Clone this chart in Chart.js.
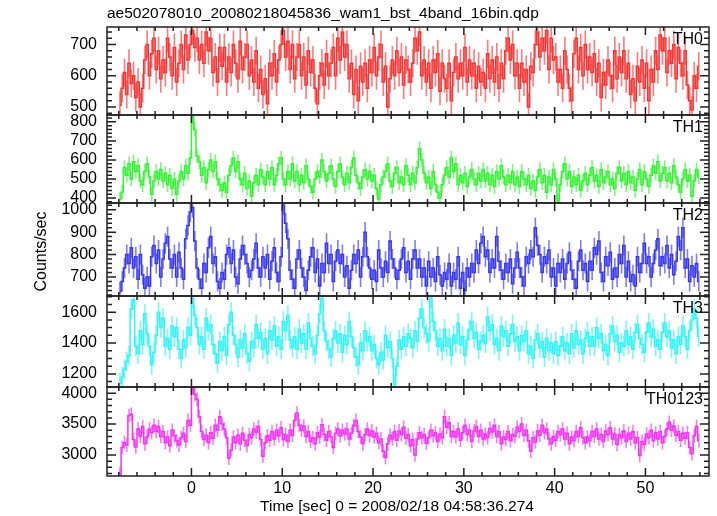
<!DOCTYPE html>
<html lang="en">
<head>
<meta charset="UTF-8">
<title>ae502078010 WAM light curve</title>
<script src="https://cdn.jsdelivr.net/npm/chart.js@4"></script>
<style>
  html, body { margin: 0; padding: 0; background: #fff; }
</style>
</head>
<body>
<canvas id="lc" width="717" height="516"></canvas>
<script>
const fileTitle = "ae502078010_20080218045836_wam1_bst_4band_16bin.qdp";
const xTitle = "Time [sec] 0 = 2008/02/18 04:58:36.274";
const yTitle = "Counts/sec";
const bandNames = ["TH0", "TH1", "TH2", "TH3", "TH0123"];

// 0.25 s bins, first bin centred at -7.875 s
const binStart = -7.875;
const binWidth = 0.25;

const th0 = [
  505, 560, 610, 540, 640, 575, 600, 530, 580, 500, 560, 650, 700, 600, 670, 720,
  620, 680, 590, 650, 610, 720, 660, 600, 690, 580, 640, 700, 620, 730, 650, 700,
  745, 690, 720, 650, 700, 640, 740, 680, 720, 610, 660, 580, 690, 630, 690, 580,
  660, 610, 700, 640, 590, 710, 620, 660, 700, 600, 650, 580, 680, 560, 620, 540,
  590, 510, 640, 600, 670, 580, 650, 700, 745, 660, 710, 620, 700, 590, 660, 700,
  600, 660, 570, 680, 610, 650, 560, 510, 600, 640, 570, 670, 600, 640, 690, 600,
  720, 650, 740, 660, 700, 590, 640, 540, 620, 520, 630, 580, 640, 560, 650, 610,
  690, 600, 660, 700, 580, 630, 500, 590, 650, 600, 680, 610, 660, 570, 650, 620,
  580, 640, 720, 680, 740, 600, 650, 580, 640, 560, 650, 610, 670, 550, 640, 590,
  560, 640, 520, 610, 660, 590, 640, 600, 690, 580, 650, 600, 640, 560, 630, 580,
  610, 560, 670, 590, 650, 580, 660, 560, 640, 590, 680, 720, 650, 700, 600, 640,
  560, 640, 580, 620, 500, 630, 610, 700, 740, 660, 720, 680, 745, 620, 720, 650,
  660, 580, 620, 560, 680, 620, 560, 520, 670, 720, 620, 690, 600, 700, 620, 660,
  610, 670, 580, 640, 530, 610, 570, 650, 600, 560, 680, 590, 660, 610, 680, 590,
  640, 540, 590, 520, 630, 580, 650, 560, 640, 520, 620, 580, 680, 620, 730, 680,
  720, 610, 680, 640, 700, 590, 690, 640, 600, 680, 570, 520, 490, 600, 560, 630
];
const th1 = [
  395, 430, 560, 520, 580, 500, 590, 540, 570, 490, 470, 540, 580, 510, 420, 490,
  540, 500, 550, 490, 530, 470, 520, 450, 500, 420, 490, 540, 500, 570, 530, 610,
  825, 760, 620, 590, 520, 560, 480, 550, 600, 540, 590, 500, 470, 440, 480, 430,
  520, 570, 610, 540, 590, 500, 470, 530, 450, 490, 410, 480, 520, 470, 550, 510,
  470, 540, 500, 560, 470, 520, 580, 610, 500, 470, 540, 500, 580, 490, 540, 470,
  520, 480, 570, 500, 460, 430, 500, 540, 510, 600, 540, 490, 530, 570, 500, 460,
  540, 580, 510, 470, 530, 480, 560, 610, 520, 480, 450, 510, 550, 500, 540, 490,
  520, 450, 395, 470, 510, 540, 580, 490, 460, 530, 560, 480, 510, 470, 570, 520,
  470, 530, 480, 560, 660, 600, 530, 480, 510, 450, 540, 470, 430, 400, 470, 520,
  560, 510, 610, 540, 580, 470, 520, 480, 530, 460, 510, 550, 500, 470, 530, 490,
  550, 490, 530, 470, 520, 460, 540, 500, 570, 510, 470, 520, 480, 540, 470, 510,
  460, 540, 500, 470, 520, 450, 490, 440, 510, 550, 480, 520, 430, 510, 470, 550,
  500, 385, 470, 540, 580, 500, 540, 460, 510, 470, 520, 440, 490, 530, 470, 520,
  560, 490, 520, 460, 550, 480, 510, 540, 470, 500, 450, 530, 560, 490, 530, 470,
  540, 480, 510, 440, 500, 550, 470, 540, 500, 460, 520, 570, 530, 590, 490, 530,
  560, 490, 530, 480, 570, 510, 470, 430, 500, 550, 490, 520, 410, 490, 550, 510
];
const th2 = [
  635, 680, 740, 800, 760, 830, 740, 790, 690, 800, 710, 650, 700, 660, 790, 840,
  760, 820, 700, 780, 850, 880, 780, 740, 800, 700, 810, 740, 690, 870, 930, 990,
  1010, 860, 740, 690, 650, 760, 720, 830, 880, 760, 790, 680, 650, 720, 690, 800,
  830, 760, 820, 700, 670, 780, 840, 800, 760, 700, 730, 780, 850, 740, 700, 790,
  740, 800, 690, 770, 830, 720, 680, 790, 1020, 940, 870, 730, 690, 650, 780, 820,
  740, 700, 640, 730, 790, 830, 720, 780, 660, 760, 720, 850, 760, 800, 680, 770,
  820, 760, 800, 700, 750, 650, 730, 800, 760, 820, 700, 790, 900, 790, 740, 690,
  730, 680, 820, 740, 700, 770, 720, 860, 780, 740, 690, 730, 780, 830, 720, 770,
  690, 780, 820, 740, 780, 700, 740, 660, 770, 700, 740, 680, 790, 710, 660, 720,
  690, 760, 660, 720, 690, 790, 650, 720, 640, 740, 700, 760, 720, 820, 760, 850,
  880, 790, 820, 720, 780, 740, 880, 770, 730, 690, 760, 720, 780, 670, 740, 810,
  740, 700, 660, 790, 760, 820, 790, 920, 840, 800, 720, 790, 760, 820, 700, 740,
  660, 760, 720, 780, 690, 760, 810, 730, 690, 650, 770, 820, 730, 760, 680, 770,
  730, 830, 800, 860, 720, 680, 790, 750, 810, 690, 740, 700, 800, 760, 840, 700,
  770, 680, 710, 660, 790, 720, 760, 850, 760, 790, 700, 760, 820, 870, 750, 790,
  760, 840, 740, 800, 710, 770, 880, 820, 920, 740, 780, 680, 750, 700, 760, 680
];
const th3 = [
  1140, 1180, 1230, 1280, 1320, 1620, 1680, 1380, 1330, 1480, 1390, 1590, 1460, 1380, 1260, 1340,
  1450, 1600, 1500, 1560, 1380, 1430, 1360, 1510, 1440, 1500, 1360, 1300, 1420, 1370, 1500, 1450,
  1690, 1580, 1500, 1390, 1440, 1360, 1560, 1480, 1520, 1390, 1330, 1270, 1410, 1350, 1440, 1320,
  1520, 1600, 1450, 1390, 1310, 1420, 1370, 1460, 1330, 1280, 1410, 1370, 1520, 1430, 1470, 1360,
  1430, 1330, 1480, 1420, 1510, 1380, 1440, 1360, 1540, 1480, 1580, 1420, 1370, 1440, 1360, 1490,
  1400, 1460, 1360, 1530, 1430, 1380, 1330, 1450, 1590, 1690, 1480, 1410, 1360, 1310, 1430, 1480,
  1400, 1460, 1340, 1450, 1390, 1540, 1440, 1370, 1310, 1260, 1400, 1350, 1480, 1410, 1440, 1350,
  1390, 1300, 1260, 1340, 1290, 1450, 1370, 1410, 1300, 1130, 1250, 1420, 1360, 1440, 1380, 1460,
  1430, 1370, 1480, 1410, 1560, 1620, 1500, 1460, 1410, 1690, 1540, 1480, 1380, 1430, 1350, 1490,
  1380, 1430, 1320, 1450, 1400, 1530, 1390, 1440, 1320, 1420, 1490, 1540, 1430, 1470, 1360, 1410,
  1450, 1400, 1570, 1480, 1520, 1390, 1430, 1350, 1510, 1440, 1480, 1380, 1460, 1520, 1410, 1440,
  1350, 1450, 1410, 1480, 1330, 1380, 1300, 1420, 1460, 1370, 1410, 1310, 1430, 1350, 1400, 1330,
  1410, 1320, 1380, 1440, 1350, 1400, 1330, 1460, 1370, 1480, 1390, 1420, 1330, 1430, 1470, 1380,
  1440, 1380, 1500, 1430, 1460, 1350, 1390, 1320, 1460, 1510, 1410, 1450, 1340, 1400, 1380, 1480,
  1390, 1440, 1360, 1470, 1520, 1430, 1390, 1340, 1470, 1530, 1440, 1490, 1380, 1420, 1360, 1470,
  1530, 1440, 1480, 1370, 1420, 1330, 1440, 1390, 1510, 1440, 1360, 1480, 1550, 1620, 1560, 1440
];
const th0123 = [
  2690, 3120, 3200, 3160, 3640, 3660, 3250, 3130, 3420, 3300, 3460, 3180, 3290, 3420, 3360, 3480,
  3380, 3460, 3300, 3380, 3200, 3290, 3150, 3400, 3310, 3230, 3160, 3280, 3350, 3220, 3560, 3480,
  4090, 3980, 3900, 3620, 3380, 3250, 3320, 3200, 3360, 3270, 3480, 3400, 3620, 3500, 3420, 3280,
  2950, 3080, 3290, 3200, 3320, 3180, 3350, 3240, 3150, 3330, 3280, 3420, 3370, 3460, 3250, 2980,
  3200, 3310, 3240, 3380, 3260, 3400, 3310, 3440, 3250, 3330, 3220, 3400, 3320, 3560, 3680, 3480,
  3400, 3470, 3300, 3380, 3220, 3280, 3180, 3360, 3290, 3490, 3330, 3240, 3380, 3300, 3120, 3350,
  3420, 3310, 3400, 3340, 3420, 3260, 3350, 3480, 3560, 3380, 3290, 3180, 3330, 3420, 3310, 3390,
  3290, 3350, 3200, 3260, 3060, 2960, 3180, 3320, 3260, 3380, 3240, 3390, 3330, 3450, 3270, 3330,
  3150, 3250, 3000, 3260, 3360, 3280, 3330, 3190, 3280, 3400, 3310, 3360, 3220, 3340, 3280, 3620,
  3450, 3520, 3300, 3380, 3290, 3420, 3240, 3360, 3480, 3330, 3400, 3220, 3390, 3460, 3300, 3400,
  3260, 3340, 3280, 3430, 3370, 3480, 3300, 3380, 3180, 3290, 3250, 3380, 3230, 3330, 3300, 3450,
  3380, 3500, 3320, 3400, 3230, 3060, 3280, 3210, 3390, 3320, 3480, 3360, 3420, 3260, 3180, 3300,
  3240, 3380, 3330, 3420, 3260, 3350, 3180, 3290, 3230, 3380, 3300, 3440, 3280, 3200, 3290, 3230,
  3380, 3300, 3420, 3260, 3330, 3220, 3390, 3330, 3440, 3260, 3340, 3170, 3330, 3280, 3390, 3220,
  3350, 3260, 3380, 3200, 3280, 2990, 3220, 3170, 3340, 3280, 3400, 3230, 3360, 3260, 3380, 3200,
  3300, 3420, 3530, 3400, 3470, 3320, 3380, 3240, 3350, 3270, 3360, 3120, 3020, 3310, 3460, 3230
];
const bandRates = [th0, th1, th2, th3, th0123];
// typical 1-sigma error of one bin, counts/sec
const bandErrors = [45, 38, 45, 65, 110];

// axis setup per panel (ranges kept off exact multiples of the minor step
// so chart.js keeps the ticks on round numbers)
const yRanges = [[474, 756], [374, 836], [615, 1030], [1115, 1705], [2660, 4100]];
const yMinorStep = [20, 20, 20, 50, 100];
const yMajorStep = [100, 100, 100, 200, 500];
const panelWeights = [88, 88, 93, 91, 89];
const bandColors = ["rgb(255,50,50)", "rgb(50,245,50)", "rgb(55,55,245)", "rgb(50,245,245)", "rgb(245,50,245)"];
const barColors = ["rgba(255,50,50,0.65)", "rgba(50,245,50,0.65)", "rgba(55,55,245,0.65)", "rgba(50,245,245,0.65)", "rgba(245,50,245,0.65)"];

const FONT = "'Liberation Sans', Arial, Helvetica, sans-serif";
const yIds = bandNames.map((n, i) => "y" + i);
const isMult = (v, step) => Math.abs(v / step - Math.round(v / step)) < 1e-6;

const scales = {
    x: {
        type: "linear",
        min: -9.3,
        max: 57,
        ticks: {
            stepSize: 2,
            includeBounds: false,
            autoSkip: false,
            maxRotation: 0,
            padding: 3,
            color: "#000",
            font: { family: FONT, size: 16 },
            callback: v => isMult(v, 10) ? Math.round(v) : ""
        },
        grid: { display: false, drawTicks: false },
        border: { display: false },
        afterFit: s => { s.height = 40; }
    }
};
yIds.forEach((id, i) => {
    scales[id] = {
        type: "linear",
        position: "left",
        stack: "panels",
        stackWeight: panelWeights[i],
        weight: bandNames.length - i,
        min: yRanges[i][0],
        max: yRanges[i][1],
        ticks: {
            stepSize: yMinorStep[i],
            includeBounds: false,
            autoSkip: false,
            padding: 10,
            color: "#000",
            font: { family: FONT, size: 16 },
            callback: v => isMult(v, yMajorStep[i]) ? Math.round(v) : ""
        },
        grid: { display: false, drawTicks: false },
        border: { display: false },
        afterFit: s => { s.width = 107; }
    };
});

// error bars, drawn under the step lines, clipped to each panel
const errorBars = {
    id: "errorBars",
    beforeDatasetsDraw(chart) {
        const { ctx, chartArea: { left, right }, scales } = chart;
        bandRates.forEach((rates, i) => {
            const ys = scales[yIds[i]];
            ctx.save();
            ctx.beginPath();
            ctx.rect(left, ys.top, right - left, ys.bottom - ys.top);
            ctx.clip();
            ctx.strokeStyle = barColors[i];
            ctx.lineWidth = 1.6;
            ctx.beginPath();
            rates.forEach((r, k) => {
                const px = scales.x.getPixelForValue(binStart + k * binWidth);
                ctx.moveTo(px, ys.getPixelForValue(r - bandErrors[i]));
                ctx.lineTo(px, ys.getPixelForValue(r + bandErrors[i]));
            });
            ctx.stroke();
            ctx.restore();
        });
    }
};

// qdp style frames with inward ticks, plus the texts
const qdpFrame = {
    id: "qdpFrame",
    afterDraw(chart) {
        const { ctx, chartArea: { left, right, top, bottom }, scales } = chart;
        const xs = scales.x;
        ctx.save();
        ctx.strokeStyle = "#222";
        ctx.lineWidth = 1.5;
        yIds.forEach((id, i) => {
            const ys = scales[id];
            ctx.strokeRect(left, ys.top, right - left, ys.bottom - ys.top);
            ctx.beginPath();
            ys.ticks.forEach(t => {
                const py = ys.getPixelForValue(t.value);
                const len = isMult(t.value, yMajorStep[i]) ? 9 : 5;
                ctx.moveTo(left, py); ctx.lineTo(left + len, py);
                ctx.moveTo(right, py); ctx.lineTo(right - len, py);
            });
            xs.ticks.forEach(t => {
                const px = xs.getPixelForValue(t.value);
                const len = isMult(t.value, 10) ? 8 : 4;
                ctx.moveTo(px, ys.top); ctx.lineTo(px, ys.top + len);
                ctx.moveTo(px, ys.bottom); ctx.lineTo(px, ys.bottom - len);
            });
            ctx.stroke();

            ctx.fillStyle = "#000";
            ctx.font = "16px " + FONT;
            ctx.textAlign = "right";
            ctx.textBaseline = "alphabetic";
            ctx.fillText(bandNames[i], right - 6, ys.top + 17);
        });

        ctx.fillStyle = "#000";
        ctx.font = "15.5px " + FONT;
        ctx.textAlign = "left";
        ctx.textBaseline = "alphabetic";
        ctx.fillText(fileTitle, left, 18);

        ctx.textAlign = "center";
        ctx.fillText(xTitle, 397, 511);

        ctx.font = "16px " + FONT;
        ctx.translate(42, (top + bottom) / 2);
        ctx.rotate(-Math.PI / 2);
        ctx.textBaseline = "middle";
        ctx.fillText(yTitle, 0, 0);
        ctx.restore();
    }
};

new Chart(document.getElementById("lc"), {
    type: "line",
    data: {
        datasets: bandRates.map((rates, i) => ({
            label: bandNames[i],
            yAxisID: yIds[i],
            data: rates.map((r, k) => ({ x: binStart + k * binWidth, y: r })),
            borderColor: bandColors[i],
            borderWidth: 1.5,
            stepped: "middle",
            pointRadius: 0,
            fill: false
        }))
    },
    options: {
        responsive: false,
        devicePixelRatio: 1,
        animation: false,
        layout: { padding: { top: 27, right: 8, left: 0, bottom: 0 } },
        scales: scales,
        plugins: {
            legend: { display: false },
            tooltip: { enabled: false }
        }
    },
    plugins: [errorBars, qdpFrame]
});
</script>
</body>
</html>
